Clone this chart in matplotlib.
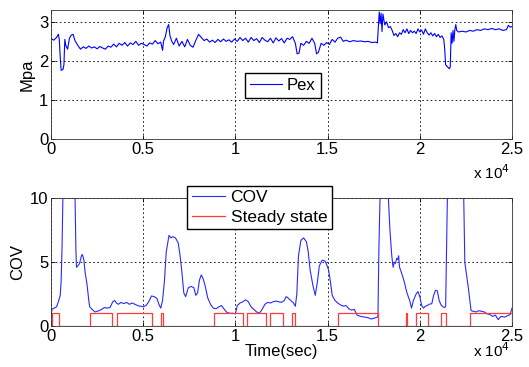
import matplotlib.pyplot as plt
import numpy as np
from matplotlib.ticker import FuncFormatter, MultipleLocator

plt.rcParams["font.family"] = ["Liberation Sans", "DejaVu Sans"]
plt.rcParams["font.size"] = 12

# exhaust pressure (time in s, pressure in MPa)
pex_points = [
    (0, 2.57), (150, 2.53), (300, 2.60), (400, 2.68), (450, 2.55), (500, 2.10),
    (550, 1.76), (650, 1.78), (700, 1.90), (750, 2.55), (800, 2.40), (900, 2.30),
    (1000, 2.58), (1100, 2.66), (1200, 2.68), (1300, 2.52), (1450, 2.40), (1600, 2.30),
    (1750, 2.36), (1900, 2.32), (2050, 2.38), (2200, 2.33), (2350, 2.36), (2500, 2.31),
    (2650, 2.37), (2800, 2.33), (2950, 2.30), (3100, 2.38), (3250, 2.35), (3400, 2.43),
    (3550, 2.36), (3700, 2.45), (3850, 2.40), (4000, 2.47), (4150, 2.38), (4300, 2.46),
    (4450, 2.42), (4600, 2.50), (4750, 2.40), (4900, 2.45), (5050, 2.42), (5200, 2.38),
    (5350, 2.46), (5500, 2.43), (5650, 2.52), (5800, 2.44), (5950, 2.48), (6050, 2.27),
    (6100, 2.50), (6200, 2.62), (6300, 2.85), (6380, 2.93), (6450, 2.65), (6550, 2.50),
    (6650, 2.42), (6800, 2.58), (6950, 2.38), (7100, 2.50), (7250, 2.36), (7400, 2.55),
    (7550, 2.40), (7700, 2.35), (7850, 2.52), (8000, 2.68), (8150, 2.60), (8300, 2.52),
    (8450, 2.56), (8600, 2.48), (8750, 2.53), (8900, 2.47), (9050, 2.55), (9200, 2.49),
    (9350, 2.56), (9500, 2.50), (9650, 2.54), (9800, 2.48), (9950, 2.56), (10100, 2.50),
    (10250, 2.60), (10400, 2.52), (10550, 2.58), (10700, 2.48), (10850, 2.60), (11000, 2.52),
    (11150, 2.57), (11300, 2.47), (11450, 2.60), (11600, 2.53), (11750, 2.49), (11900, 2.58),
    (12050, 2.46), (12200, 2.59), (12350, 2.51), (12500, 2.57), (12650, 2.46), (12800, 2.58),
    (12950, 2.55), (13100, 2.62), (13250, 2.45), (13350, 2.18), (13450, 2.20), (13550, 2.45),
    (13700, 2.40), (13850, 2.50), (14000, 2.45), (14150, 2.58), (14300, 2.45), (14400, 2.18),
    (14500, 2.22), (14650, 2.45), (14800, 2.40), (14950, 2.47), (15100, 2.42), (15250, 2.55),
    (15400, 2.48), (15550, 2.58), (15700, 2.61), (15850, 2.50), (16000, 2.53), (16200, 2.49),
    (16400, 2.52), (16600, 2.50), (16800, 2.51), (17000, 2.49), (17200, 2.50), (17400, 2.47),
    (17600, 2.48), (17700, 2.46), (17750, 2.85), (17800, 3.25), (17850, 2.95), (17900, 3.22),
    (17950, 2.75), (18000, 3.20), (18050, 3.05), (18100, 2.92), (18200, 3.00), (18300, 2.85),
    (18400, 2.88), (18500, 2.78), (18600, 2.65), (18700, 2.70), (18800, 2.62), (18900, 2.72),
    (19000, 2.68), (19100, 2.80), (19200, 2.72), (19300, 2.82), (19400, 2.70), (19500, 2.78),
    (19600, 2.72), (19700, 2.76), (19800, 2.70), (19900, 2.82), (20000, 2.74), (20100, 2.79),
    (20200, 2.68), (20300, 2.82), (20400, 2.72), (20500, 2.66), (20600, 2.72), (20700, 2.64),
    (20800, 2.70), (20900, 2.62), (21000, 2.68), (21100, 2.60), (21200, 2.64), (21300, 2.55),
    (21350, 2.30), (21400, 1.90), (21500, 1.85), (21600, 1.80), (21650, 1.84), (21700, 2.72),
    (21750, 2.45), (21800, 2.78), (21850, 2.50), (21900, 2.80), (21950, 2.93), (22000, 2.78),
    (22100, 2.74), (22300, 2.76), (22500, 2.74), (22700, 2.78), (22900, 2.76), (23100, 2.80),
    (23300, 2.78), (23500, 2.82), (23700, 2.80), (23900, 2.83), (24100, 2.80), (24300, 2.82),
    (24500, 2.78), (24700, 2.80), (24800, 2.91), (24900, 2.86), (25000, 2.88),
]

# coefficient of variation (clipped at the top of the axis)
cov_points = [
    (0, 0.7), (50, 1.3), (150, 1.38), (300, 1.5), (400, 1.9), (500, 2.4), (550, 3.5),
    (600, 6.2), (650, 10.5), (700, 14), (1250, 14), (1300, 10.5), (1350, 6.0), (1380, 4.6),
    (1450, 4.7), (1550, 4.9), (1650, 5.5), (1700, 5.6), (1780, 5.2), (1850, 4.2), (1950, 3.3),
    (2050, 2.0), (2100, 1.5), (2200, 1.35), (2300, 1.2), (2400, 1.1), (2500, 1.15), (2600, 1.2),
    (2750, 1.3), (2900, 1.45), (3050, 1.4), (3200, 1.45), (3350, 1.9), (3450, 2.0), (3550, 1.8),
    (3650, 1.7), (3800, 1.85), (3950, 1.75), (4100, 1.85), (4250, 1.7), (4400, 1.8), (4550, 1.7),
    (4700, 1.6), (4850, 1.55), (5000, 1.5), (5150, 1.6), (5300, 1.9), (5450, 2.35), (5600, 2.3),
    (5750, 2.15), (5850, 1.7), (5950, 1.4), (6050, 2.0), (6150, 3.5), (6250, 5.8), (6400, 7.1),
    (6500, 6.9), (6600, 7.0), (6750, 6.9), (6900, 6.5), (7000, 5.5), (7100, 4.2), (7200, 2.6),
    (7300, 2.3), (7450, 3.0), (7600, 3.1), (7750, 3.0), (7850, 2.4), (7950, 2.6), (8050, 3.6),
    (8150, 4.0), (8250, 3.7), (8350, 3.2), (8500, 2.2), (8650, 1.7), (8800, 1.4), (8950, 1.35),
    (9100, 1.5), (9250, 1.6), (9400, 1.3), (9550, 1.05), (9700, 1.0), (9850, 1.0), (10000, 0.95),
    (10100, 1.6), (10250, 1.8), (10400, 1.9), (10550, 2.05), (10700, 1.9), (10850, 1.5),
    (11000, 1.3), (11150, 1.1), (11300, 1.0), (11450, 1.3), (11600, 1.7), (11750, 1.85),
    (11900, 1.8), (12050, 1.9), (12200, 1.95), (12350, 1.9), (12500, 1.85), (12650, 2.0),
    (12750, 2.3), (12850, 2.2), (13000, 2.0), (13150, 1.8), (13250, 1.55), (13330, 2.5),
    (13420, 5.5), (13550, 6.7), (13700, 6.9), (13850, 6.6), (13950, 5.8), (14050, 4.4),
    (14200, 3.2), (14330, 2.4), (14450, 3.5), (14550, 4.7), (14700, 5.15), (14850, 5.1),
    (14950, 4.8), (15050, 4.4), (15150, 3.5), (15250, 2.4), (15400, 2.0), (15550, 1.8),
    (15700, 1.65), (15850, 1.55), (16000, 1.6), (16150, 1.35), (16300, 1.25), (16450, 1.3),
    (16600, 0.85), (16800, 0.75), (17000, 0.7), (17200, 0.65), (17350, 0.55), (17500, 0.6),
    (17700, 0.7), (17730, 0.75), (17780, 6.0), (17850, 10.5), (17950, 14), (18200, 14),
    (18280, 10.5), (18380, 7.5), (18480, 5.5), (18550, 4.6), (18620, 5.0), (18680, 4.9),
    (18750, 5.3), (18800, 5.2), (18850, 5.5), (18900, 4.6), (19000, 4.2), (19150, 3.5),
    (19300, 2.6), (19450, 2.0), (19550, 1.4), (19650, 2.0), (19800, 2.5), (19900, 2.7),
    (20000, 2.3), (20100, 1.6), (20200, 1.4), (20300, 1.55), (20400, 1.6), (20500, 1.7),
    (20650, 1.75), (20750, 2.4), (20850, 2.8), (20950, 2.75), (21050, 2.0), (21150, 1.65),
    (21300, 1.45), (21400, 1.5), (21450, 6.0), (21500, 10.5), (21550, 14), (22300, 14),
    (22380, 10.2), (22440, 5.0), (22630, 3.0), (22780, 1.2), (22900, 1.15), (23050, 1.1),
    (23200, 1.2), (23350, 1.15), (23500, 1.1), (23650, 0.95), (23800, 0.9), (23950, 0.75),
    (24100, 0.85), (24250, 0.5), (24400, 0.75), (24600, 0.7), (24750, 0.8), (24900, 0.9),
    (25000, 1.4),
]

# intervals flagged as steady state (start, end) in s
steady_intervals = [
    (50, 450), (2090, 3320), (3570, 5470), (5940, 6100), (8840, 10430),
    (10650, 11660), (11880, 12600), (13090, 13250), (15540, 17710),
    (19240, 19300), (19790, 20460), (21150, 21400), (22700, 25000),
]

pex_t, pex_v = np.array(pex_points).T
cov_t, cov_v = np.array(cov_points).T

steady_t = [0]
steady_v = [0]
for start, end in steady_intervals:
    steady_t += [start, start, end, end]
    steady_v += [0, 1, 1, 0]
steady_t.append(25000)
steady_v.append(0)

fig = plt.figure(figsize=(5.29, 3.67), dpi=100)
ax1 = fig.add_axes([0.0964, 0.621, 0.8715, 0.3515])
ax2 = fig.add_axes([0.0964, 0.1117, 0.8715, 0.348])

sci_fmt = FuncFormatter(lambda x, pos: f"{x / 1e4:g}")

ax1.plot(pex_t, pex_v, color="#0000ff", lw=0.8, label="Pex")
ax1.set_ylim(0, 3.3)
ax1.set_ylabel("Mpa", labelpad=3)
ax1.yaxis.set_major_locator(MultipleLocator(1))
ax1.legend(loc="center", bbox_to_anchor=(0.503, 0.419), fancybox=False,
           edgecolor="black", framealpha=1, handlelength=1.9,
           borderpad=0.3, borderaxespad=0, handletextpad=0.3, fontsize=12)

ax2.plot(cov_t, cov_v, color="#2a2aff", lw=0.8, label="COV")
ax2.plot(steady_t, steady_v, color="#ff3c3c", lw=0.9, label="Steady state")
ax2.set_ylim(0, 10)
ax2.set_ylabel("COV", labelpad=3)
ax2.set_xlabel("Time(sec)", labelpad=0)
ax2.yaxis.set_major_locator(MultipleLocator(5))
leg = ax2.legend(loc="center", bbox_to_anchor=(0.452, 0.928), fancybox=False,
                 edgecolor="black", framealpha=1, handlelength=1.9,
                 borderpad=0.25, borderaxespad=0, handletextpad=0.35,
                 labelspacing=0.25, fontsize=12.5)
leg.set_zorder(5)

for ax, yoff in ((ax1, -0.26), (ax2, -0.19)):
    ax.set_xlim(0, 25000)
    ax.xaxis.set_major_locator(MultipleLocator(5000))
    ax.xaxis.set_major_formatter(sci_fmt)
    ax.grid(True, color="black", linestyle=(0, (2, 3)), linewidth=0.6)
    ax.tick_params(direction="in", top=True, right=True, length=3,
                   width=0.6, labelsize=12, pad=2)
    for spine in ax.spines.values():
        spine.set_linewidth(0.6)
        spine.set_color("#333333")
    ax.text(0.995, yoff, "x 10$^{4}$", transform=ax.transAxes,
            ha="right", va="center", fontsize=11)

fig.savefig("out.png", dpi=100)
